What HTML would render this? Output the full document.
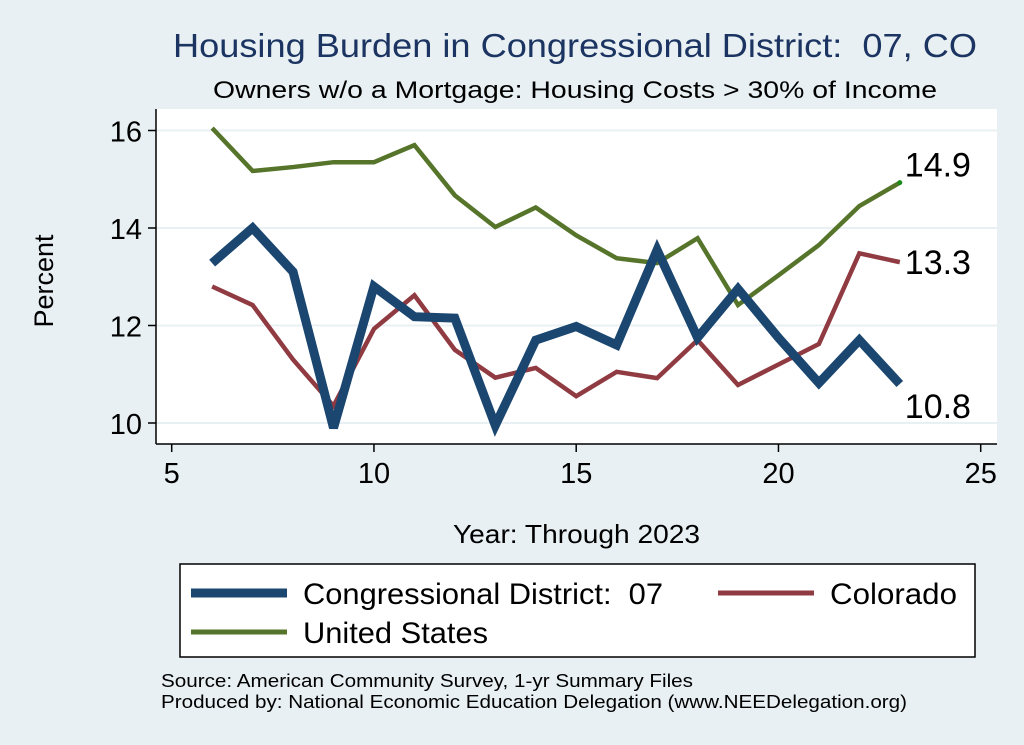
<!DOCTYPE html>
<html><head><meta charset="utf-8"><style>
html,body{margin:0;padding:0;background:#e8f0f3;}
svg{display:block;font-family:"Liberation Sans",Arial,sans-serif;}
text{white-space:pre;}
</style></head><body>
<svg width="1024" height="745" viewBox="0 0 1024 745">
<rect x="0" y="0" width="1024" height="745" fill="#e8f0f3"/>
<text x="173" y="57" font-size="33" fill="#1c3461" textLength="804" lengthAdjust="spacingAndGlyphs">Housing Burden in Congressional District:  07, CO</text>
<text x="213" y="98" font-size="24" fill="#000" textLength="724" lengthAdjust="spacingAndGlyphs">Owners w/o a Mortgage: Housing Costs &gt; 30% of Income</text>
<rect x="156" y="109" width="841" height="335" fill="#fff"/>
<g id="grid"></g>
<g id="axes"></g>
<g id="series"></g>
<text transform="translate(53,281) rotate(-90)" text-anchor="middle" font-size="27" fill="#000">Percent</text>
<text x="453" y="543" font-size="26" fill="#000" textLength="247" lengthAdjust="spacingAndGlyphs">Year: Through 2023</text>
<g>
<rect x="180" y="564" width="795" height="93" fill="#fff" stroke="#000" stroke-width="1.5"/>
<line x1="191" y1="593" x2="287" y2="593" stroke="#1a4670" stroke-width="9"/>
<text x="303" y="604" font-size="30" fill="#000" textLength="360" lengthAdjust="spacingAndGlyphs">Congressional District:  07</text>
<line x1="718" y1="593" x2="814" y2="593" stroke="#903a41" stroke-width="5"/>
<text x="830" y="604" font-size="30" fill="#000" textLength="127" lengthAdjust="spacingAndGlyphs">Colorado</text>
<line x1="191" y1="632" x2="287" y2="632" stroke="#56752b" stroke-width="5"/>
<text x="303" y="643" font-size="30" fill="#000" textLength="185" lengthAdjust="spacingAndGlyphs">United States</text>
</g>
<text x="161" y="687" font-size="18" fill="#000" textLength="532" lengthAdjust="spacingAndGlyphs">Source: American Community Survey, 1-yr Summary Files</text>
<text x="161" y="708" font-size="18" fill="#000" textLength="746" lengthAdjust="spacingAndGlyphs">Produced by: National Economic Education Delegation (www.NEEDelegation.org)</text>
</svg>
<script>
const years=[6,7,8,9,10,11,12,13,14,15,16,17,18,19,20,21,22,23];
const district=[13.28,14.0,13.1,9.9,12.8,12.18,12.15,9.95,11.7,11.98,11.6,13.55,11.75,12.75,11.75,10.82,11.7,10.8];
const colorado=[12.8,12.42,11.3,10.35,11.93,12.62,11.5,10.93,11.13,10.55,11.05,10.92,11.7,10.78,11.2,11.62,13.48,13.3];
const us=[16.05,15.17,15.25,15.35,15.35,15.7,14.67,14.02,14.42,13.85,13.38,13.28,13.79,12.42,13.03,13.65,14.45,14.93];
const xTicks=[5,10,15,20,25];
const yTicks=[10,12,14,16];
const NS='http://www.w3.org/2000/svg';
function X(v){return 171.7+(v-5)*40.45;}
function Y(v){return 423-(v-10)*48.75;}
function mk(tag,attrs,parent){const e=document.createElementNS(NS,tag);for(const k in attrs)e.setAttribute(k,attrs[k]);parent.appendChild(e);return e;}
const grid=document.getElementById('grid'),axes=document.getElementById('axes'),ser=document.getElementById('series');
yTicks.forEach(t=>{
  const g=mk('line',{x1:156,x2:997,y1:Y(t),y2:Y(t),stroke:'#e8f0f3','stroke-width':2},grid);
  
  
  const tk=mk('line',{x1:148,x2:156,y1:Y(t),y2:Y(t),stroke:'#000','stroke-width':1.5},axes);
  
  
  const l=mk('text',{x:142,y:Y(t)+11,'text-anchor':'end','font-size':29,fill:'#000'},axes);
  l.textContent=t;
  
  
});
xTicks.forEach(t=>{
  const tk=mk('line',{x1:X(t),x2:X(t),y1:444,y2:452,stroke:'#000','stroke-width':1.5},axes);
  
  
  const l=mk('text',{x:X(t),y:483,'text-anchor':'middle','font-size':29,fill:'#000'},axes);
  l.textContent=t;
  
  
});
const ya=mk('line',{x1:156,x2:156,y1:109,y2:444,stroke:'#000','stroke-width':1.5},axes);


const xa=mk('line',{x1:156,x2:997,y1:444,y2:444,stroke:'#000','stroke-width':1.5},axes);


function line(vals,color,w,name){
  const p=mk('polyline',{points:vals.map((v,i)=>X(years[i])+','+Y(v)).join(' '),fill:'none',stroke:color,'stroke-width':w,'stroke-linejoin':'miter','stroke-miterlimit':3},ser);
  
  
}
line(colorado,'#903a41',4.5,'line-colorado');
line(us,'#56752b',4.5,'line-us');
line(district,'#1a4670',9,'line-district');
const last=years.length-1;
const dot=mk('circle',{cx:X(years[last]),cy:Y(us[last]),r:2.5,fill:'#1a8a1a'},ser);


[[us,-6,'label-us-end'],[colorado,12,'label-colorado-end'],[district,34,'label-district-end']].forEach(([arr,dy,nm])=>{
  const t=mk('text',{x:X(years[last])+5,y:Y(arr[last])+dy,'font-size':34,fill:'#000'},ser);
  t.textContent=arr[last].toFixed(1);
  
  
});
</script>
</body></html>
